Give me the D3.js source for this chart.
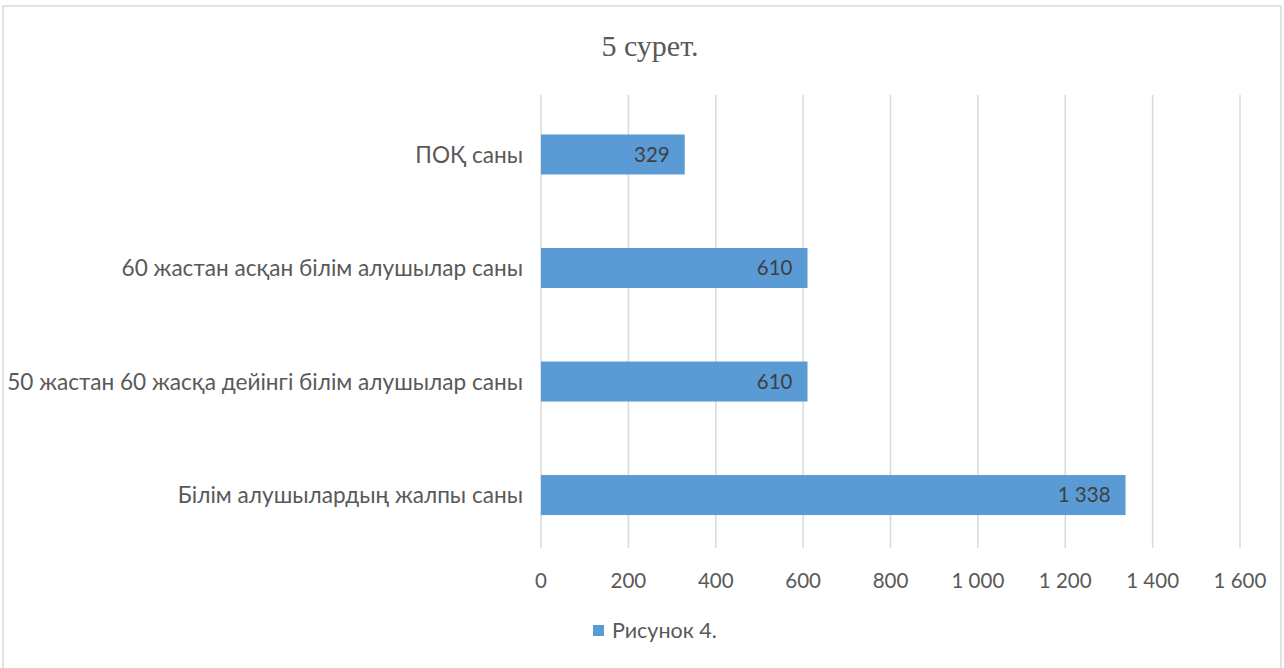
<!DOCTYPE html>
<html>
<head>
<meta charset="utf-8">
<script src="https://cdn.jsdelivr.net/npm/d3@7"></script>
<style>
  body { margin: 0; background: #fff; }
  svg { display: block; }
</style>
</head>
<body>
<svg id="chart" width="1284" height="668"></svg>
<script>
const categories = [
  "ПОҚ саны",
  "60 жастан асқан білім алушылар саны",
  "50 жастан 60 жасқа дейінгі білім алушылар саны",
  "Білім алушылардың жалпы саны"
];
const values = [329, 610, 610, 1338];
const xTicks = [0, 200, 400, 600, 800, 1000, 1200, 1400, 1600];
const chartTitle = "5 сурет.";
const seriesName = "Рисунок 4.";

const FONT = "Lato, 'Open Sans', sans-serif";
const BAR_COLOR = "#5b9bd5";
const GRID_COLOR = "#d9d9d9";
const TEXT_COLOR = "#595959";

const svg = d3.select("#chart");

// outer chart border (cut off at right and bottom)
svg.append("rect")
  .attr("x", 3).attr("y", 6)
  .attr("width", 1278).attr("height", 700)
  .attr("fill", "#fff")
  .attr("stroke", GRID_COLOR)
  .attr("stroke-width", 1.5);

const margin = {left: 541, right: 44, top: 95, bottom: 120};
const width = 1284 - margin.left - margin.right;
const height = 668 - margin.top - margin.bottom;

const x = d3.scaleLinear().domain([0, 1600]).range([0, width]);
const y = d3.scaleBand().domain(categories).range([0, height])
  .paddingInner(0.6476).paddingOuter(0.319).align(0.545);

const g = svg.append("g").attr("transform", `translate(${margin.left},${margin.top})`);

// vertical gridlines
g.selectAll("line.grid")
  .data(xTicks)
  .enter().append("line")
  .attr("class", "grid")
  .attr("x1", d => x(d)).attr("x2", d => x(d))
  .attr("y1", 0).attr("y2", height)
  .attr("stroke", GRID_COLOR)
  .attr("stroke-width", 1.5);

// x tick labels
const fmt = v => d3.format(",")(v).replace(/,/g, " ");
g.selectAll("text.xtick")
  .data(xTicks)
  .enter().append("text")
  .attr("class", "xtick")
  .attr("x", d => x(d))
  .attr("y", height + 33)
  .attr("dy", "0.36em")
  .attr("text-anchor", "middle")
  .attr("font-family", FONT)
  .attr("font-size", 20.5)
  .attr("fill", TEXT_COLOR)
  .text(fmt);

// bars
g.selectAll("rect.bar")
  .data(values)
  .enter().append("rect")
  .attr("class", "bar")
  .attr("x", 0)
  .attr("y", (d, i) => y(categories[i]))
  .attr("width", d => x(d))
  .attr("height", y.bandwidth())
  .attr("fill", BAR_COLOR);

// data labels
g.selectAll("text.val")
  .data(values)
  .enter().append("text")
  .attr("class", "val")
  .attr("x", d => x(d) - 15)
  .attr("y", (d, i) => y(categories[i]) + y.bandwidth() / 2)
  .attr("dy", "0.36em")
  .attr("text-anchor", "end")
  .attr("font-family", FONT)
  .attr("font-size", 20.5)
  .attr("fill", "#404040")
  .text(fmt);

// category labels
g.selectAll("text.cat")
  .data(categories)
  .enter().append("text")
  .attr("class", "cat")
  .attr("x", -18)
  .attr("y", d => y(d) + y.bandwidth() / 2)
  .attr("dy", "0.36em")
  .attr("text-anchor", "end")
  .attr("font-family", FONT)
  .attr("font-size", 22.6)
  .attr("fill", TEXT_COLOR)
  .text(d => d);

// title
svg.append("text")
  .attr("x", 650).attr("y", 56)
  .attr("text-anchor", "middle")
  .attr("font-family", "'Liberation Serif', 'DejaVu Serif', serif")
  .attr("font-size", 30)
  .attr("fill", TEXT_COLOR)
  .text(chartTitle);

// legend
const legend = svg.append("g").attr("transform", "translate(593,625)");
legend.append("rect")
  .attr("width", 11).attr("height", 11)
  .attr("fill", BAR_COLOR);
legend.append("text")
  .attr("x", 19).attr("y", 5.5)
  .attr("dy", "0.36em")
  .attr("font-family", FONT)
  .attr("font-size", 21.5)
  .attr("fill", TEXT_COLOR)
  .text(seriesName);
</script>
</body>
</html>
